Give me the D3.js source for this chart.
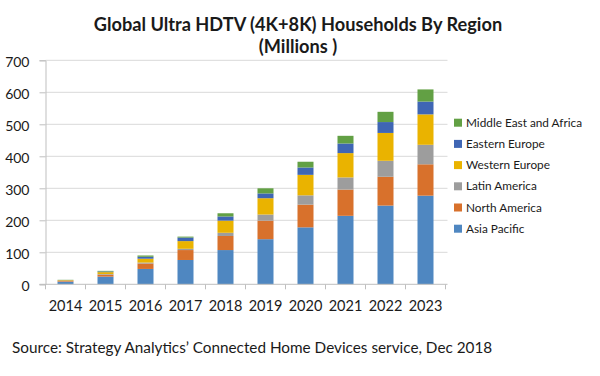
<!DOCTYPE html>
<html><head><meta charset="utf-8">
<script src="https://cdn.jsdelivr.net/npm/d3@7"></script>
<style>body{margin:0;background:#fff;} text{font-family:Lato,"Open Sans",sans-serif;fill:#1a1a1a;}</style>
</head><body>
<svg id="c" width="600" height="376"></svg>
<script>
const years = ["2014","2015","2016","2017","2018","2019","2020","2021","2022","2023"];
const seriesNames = ["Asia Pacific","North America","Latin America","Western Europe","Eastern Europe","Middle East and Africa"];
const asiaPacific   = [8, 24, 48, 76, 107, 141, 178, 214, 246, 277];
const northAmerica  = [2, 6, 17, 31, 44, 58, 71, 82, 90, 98];
const latinAmerica  = [1, 2, 3, 4, 10, 19, 29, 38, 50, 61];
const westernEurope = [2, 6, 12, 24, 38, 51, 64, 76, 87, 95];
const easternEurope = [0.5, 2, 6, 11, 13, 15, 23, 30, 34, 40];
const middleEast    = [0.5, 2, 4, 3, 10, 16, 18, 24, 32, 38];
const yTicks = [0,100,200,300,400,500,600,700];
const colors = ["#4F87C1","#D8712C","#9D9D9D","#EAB300","#3F66B4","#62A044"];

const allSeries = [asiaPacific, northAmerica, latinAmerica, westernEurope, easternEurope, middleEast];
const rows = years.map((y,i)=>{ const r={year:y}; seriesNames.forEach((n,k)=>r[n]=allSeries[k][i]); return r; });
const stacked = d3.stack().keys(seriesNames)(rows);

const svg = d3.select("#c");
const x0 = 45.5, x1 = 445.5;
const x = d3.scaleBand().domain(years).range([x0,x1]).paddingInner(0.6).paddingOuter(0.3);
const y = d3.scaleLinear().domain([0,700]).range([284.3,60.3]);

// gridlines
svg.append("g").selectAll("line").data(yTicks.slice(1)).join("line")
  .attr("x1",x0).attr("x2",x1+2).attr("y1",d=>y(d)).attr("y2",d=>y(d))
  .attr("stroke","#d9d9d9").attr("stroke-width",1);

// bars
svg.append("g").selectAll("g").data(stacked).join("g")
  .attr("fill",(d,i)=>colors[i])
  .selectAll("rect").data(d=>d).join("rect")
  .attr("x",d=>x(d.data.year)).attr("width",x.bandwidth())
  .attr("y",d=>y(d[1])).attr("height",d=>y(d[0])-y(d[1]));

// y axis
const yAxis = d3.axisLeft(y).tickValues(yTicks).tickSize(6).tickPadding(10);
const ga = svg.append("g").attr("transform",`translate(${x0},0)`).call(yAxis);
ga.select(".domain").attr("stroke","#bfbfbf");
ga.selectAll(".tick line").attr("stroke","#bfbfbf");
ga.selectAll(".tick text").attr("font-size","14px").attr("dy","0.45em").attr("fill","#1a1a1a");

// x axis
const xb = d3.scaleLinear().domain([0,years.length]).range([x0,x1]);
const gx = svg.append("g").attr("transform","translate(0,284.3)");
gx.append("line").attr("x1",x0-6).attr("x2",x1+2).attr("stroke","#bfbfbf");
gx.selectAll("line.t").data(d3.range(years.length+1)).join("line").attr("class","t")
  .attr("x1",d=>xb(d)).attr("x2",d=>xb(d)).attr("y1",0).attr("y2",5).attr("stroke","#bfbfbf");
gx.selectAll("text").data(years).join("text")
  .attr("x",d=>x(d)+x.bandwidth()/2).attr("y",27).attr("text-anchor","middle")
  .attr("font-size","14.5px").text(d=>d);

// title
svg.append("text").attr("x",298).attr("y",31).attr("text-anchor","middle")
  .attr("font-size","18.2px").attr("font-weight","bold").text("Global Ultra HDTV (4K+8K) Households By Region");
svg.append("text").attr("x",298).attr("y",53).attr("text-anchor","middle")
  .attr("font-size","18.2px").attr("font-weight","bold").text("(Millions )");

// legend
const legendOrder = seriesNames.slice().reverse();
const lg = svg.append("g").selectAll("g").data(legendOrder).join("g")
  .attr("transform",(d,i)=>`translate(454,${122.7+i*21.2})`);
lg.append("rect").attr("x",0).attr("y",-4).attr("width",8).attr("height",8)
  .attr("fill",d=>colors[seriesNames.indexOf(d)]);
lg.append("text").attr("x",12).attr("y",4).attr("font-size","11.8px").text(d=>d);

// source
svg.append("text").attr("x",12).attr("y",352.5).attr("font-size","15.3px")
  .text("Source: Strategy Analytics\u2019 Connected Home Devices service, Dec 2018");
</script>
</body></html>
